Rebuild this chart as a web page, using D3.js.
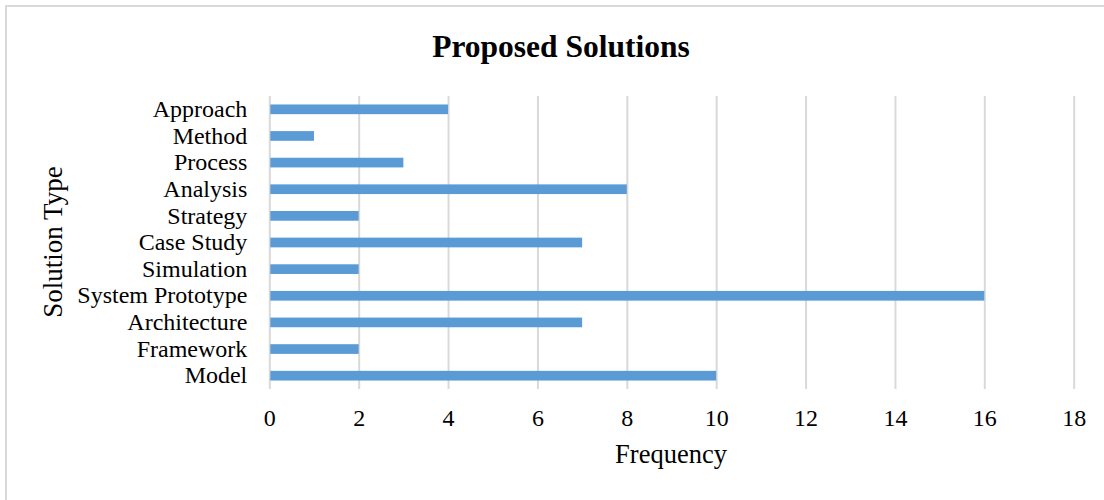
<!DOCTYPE html>
<html>
<head>
<meta charset="utf-8">
<script src="https://cdn.jsdelivr.net/npm/d3@7"></script>
<style>
  html, body { margin: 0; padding: 0; background: #fff; }
  svg { display: block; }
  text { font-family: "Liberation Serif", "Times New Roman", serif; fill: #000; }
</style>
</head>
<body>
<svg id="chart" width="1104" height="500"></svg>
<script>
// Solution types, listed top to bottom
const categories = ["Approach", "Method", "Process", "Analysis", "Strategy", "Case Study",
  "Simulation", "System Prototype", "Architecture", "Framework", "Model"];
const frequency = [4, 1, 3, 8, 2, 7, 2, 16, 7, 2, 10];
const xTicks = [0, 2, 4, 6, 8, 10, 12, 14, 16, 18];

const svg = d3.select("#chart");

// chart frame
svg.append("rect")
  .attr("x", 6).attr("y", 6)
  .attr("width", 1120).attr("height", 520)
  .attr("fill", "#fff")
  .attr("stroke", "#d9d9d9")
  .attr("stroke-width", 2);

const plot = { left: 269.3, right: 1073.7, top: 96, bottom: 389 };

const x = d3.scaleLinear().domain([0, 18]).range([plot.left, plot.right]);
const y = d3.scaleBand().domain(categories)
  .range([plot.top, plot.bottom])
  .paddingInner(0.636).paddingOuter(0.318);

// vertical gridlines
const grid = svg.append("g")
  .attr("transform", `translate(0,${plot.bottom})`)
  .call(d3.axisBottom(x).tickValues(xTicks).tickSize(-(plot.bottom - plot.top)).tickFormat(""));
grid.select(".domain").remove();
grid.selectAll(".tick line").attr("stroke", "#d9d9d9").attr("stroke-width", 2);

// x tick labels
const xAxis = svg.append("g")
  .attr("transform", `translate(0,${plot.bottom})`)
  .call(d3.axisBottom(x).tickValues(xTicks).tickSize(0).tickPadding(20).tickFormat(d3.format("d")));
xAxis.select(".domain").remove();
xAxis.selectAll("text")
  .style("font-family", "'Liberation Serif', 'Times New Roman', serif")
  .style("font-size", "24px").attr("fill", "#000");

// bars
svg.append("g").selectAll("rect")
  .data(categories)
  .join("rect")
  .attr("x", x(0) + 1)
  .attr("y", d => y(d))
  .attr("width", (d, i) => x(frequency[i]) - x(0) - 1)
  .attr("height", y.bandwidth())
  .attr("fill", "#5b9bd5");

// category labels
const yAxis = svg.append("g")
  .attr("transform", `translate(${plot.left},0)`)
  .call(d3.axisLeft(y).tickSize(0).tickPadding(22));
yAxis.select(".domain").remove();
yAxis.selectAll("text")
  .attr("dy", "0.32em")
  .style("font-family", "'Liberation Serif', 'Times New Roman', serif")
  .style("font-size", "24px").attr("fill", "#000");

// title
svg.append("text")
  .attr("x", 561).attr("y", 56.5)
  .attr("text-anchor", "middle")
  .style("font-size", "31.5px").style("font-weight", "bold")
  .text("Proposed Solutions");

// axis titles
svg.append("text")
  .attr("x", 671).attr("y", 463)
  .attr("text-anchor", "middle")
  .style("font-size", "26.5px")
  .text("Frequency");

svg.append("text")
  .attr("transform", "translate(62,242) rotate(-90)")
  .attr("text-anchor", "middle")
  .style("font-size", "27px")
  .text("Solution Type");
</script>
</body>
</html>
